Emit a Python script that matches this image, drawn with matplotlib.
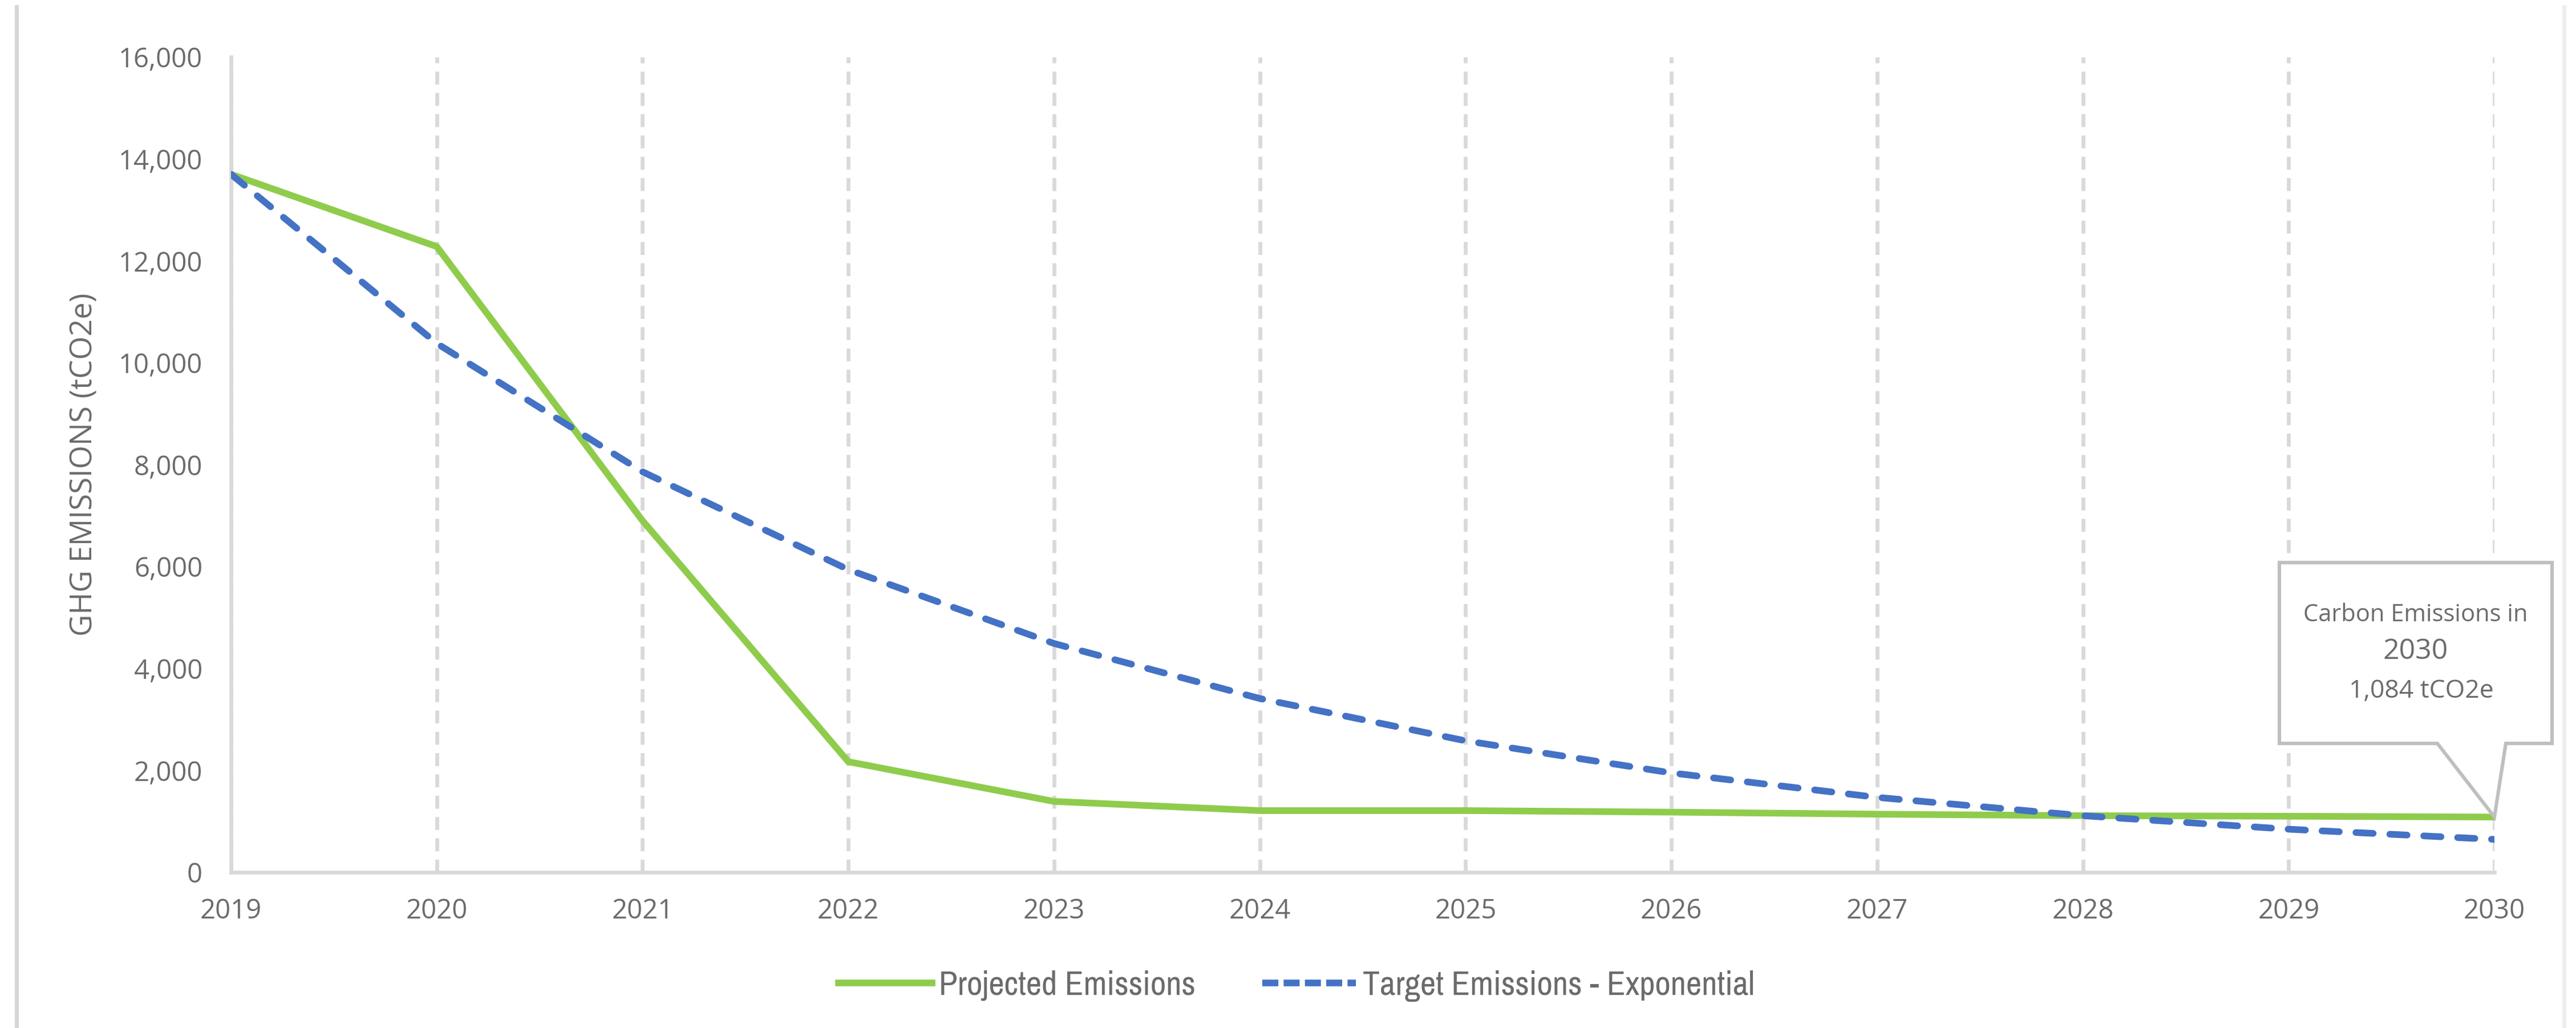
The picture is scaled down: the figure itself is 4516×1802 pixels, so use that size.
import matplotlib
matplotlib.use("Agg")
import matplotlib.pyplot as plt
import matplotlib.transforms as mtransforms
from matplotlib import font_manager
from matplotlib.patches import Polygon
from matplotlib.lines import Line2D
from matplotlib.ticker import FuncFormatter

# values
years = [2019, 2020, 2021, 2022, 2023, 2024, 2025, 2026, 2027, 2028, 2029, 2030]
projected = [13700, 12280, 6900, 2170, 1390, 1210, 1210, 1180, 1140, 1110, 1100, 1084]
target = [13700, 10380, 7860, 5940, 4490, 3410, 2580, 1950, 1470, 1110, 845, 645]
yticks = [0, 2000, 4000, 6000, 8000, 10000, 12000, 14000, 16000]
callout_lines = ["Carbon Emissions in", "2030", "1,084 tCO2e"]
legend_labels = ["Projected Emissions", "Target Emissions - Exponential"]

GREEN = "#8fcc4c"
BLUE = "#4472c4"
GRID = "#d9d9d9"
TXT = "#6b6b6b"

plt.rcParams['font.family'] = ['Open Sans', 'DejaVu Sans']


def is_regular(f):
    return f.style == 'normal' and f.weight in (400, 'normal', 'regular')


# the legend uses a narrow face; pick an upright one if installed
narrow = None
for f in font_manager.fontManager.ttflist:
    n = f.name.lower()
    if ('narrow' in n or 'condensed' in n) and is_regular(f):
        narrow = f.fname
        break
if narrow is None:
    for f in font_manager.fontManager.ttflist:
        if str(f.stretch) in ('condensed', 'semi-condensed', 'extra-condensed') and is_regular(f):
            narrow = f.fname
            break
if narrow is not None:
    leg_prop = font_manager.FontProperties(fname=narrow, size=21.5)
else:
    leg_prop = font_manager.FontProperties(family=['Open Sans'], size=16)

fig = plt.figure(figsize=(22.58, 9.01), dpi=200)
ax = fig.add_axes([405 / 4516, 1 - 1529 / 1802, (4373 - 405) / 4516, (1529 - 100) / 1802])

ax.plot(years, projected, color=GREEN, lw=4.2, solid_capstyle='butt', zorder=3,
        label=legend_labels[0])
ax.plot(years, target, color=BLUE, lw=4.2, dashes=(2.6, 2.5), dash_capstyle='round',
        zorder=4, label=legend_labels[1])

ax.set_xlim(years[0], years[-1])
ax.set_ylim(yticks[0], yticks[-1])
ax.set_xticks(years)
ax.set_yticks(yticks)
ax.yaxis.set_major_formatter(FuncFormatter(lambda v, p: f"{int(v):,}"))
ax.tick_params(length=0, labelsize=17, colors=TXT)
ax.tick_params(axis='y', pad=18)
ax.tick_params(axis='x', pad=16)
ax.grid(axis='x', color=GRID, lw=2.4, dashes=(3.4, 2.2))
ax.set_axisbelow(True)
for s in ['top', 'right']:
    ax.spines[s].set_visible(False)
for s in ['left', 'bottom']:
    ax.spines[s].set_color(GRID)
    ax.spines[s].set_linewidth(2.4)

ax.set_ylabel("GHG EMISSIONS (tCO2e)", fontsize=19, color=TXT, labelpad=12)

# callout pointing to the last projected value
tr = fig.dpi_scale_trans + mtransforms.ScaledTranslation(years[-1], projected[-1], ax.transData)
box = Polygon([(-1.885, 0.645), (-0.50, 0.645), (0, 0), (0.10, 0.645), (0.505, 0.645),
               (0.505, 2.23), (-1.885, 2.23)], closed=True, transform=tr,
              facecolor='white', edgecolor='#bfbfbf', lw=2.2, zorder=6, clip_on=False)
ax.add_patch(box)
ax.text(-0.69, 1.77, callout_lines[0], transform=tr, ha='center', va='center',
        fontsize=15, color=TXT, zorder=7)
ax.text(-0.69, 1.45, callout_lines[1], transform=tr, ha='center', va='center',
        fontsize=18, color=TXT, zorder=7)
ax.text(-0.64, 1.10, callout_lines[2], transform=tr, ha='center', va='center',
        fontsize=16, color=TXT, zorder=7)

# legend
handles = [Line2D([], [], color=GREEN, lw=4.2),
           Line2D([], [], color=BLUE, lw=4.2, dashes=(2.4, 0.8), dash_capstyle='butt')]
leg = fig.legend(handles, legend_labels,
                 loc='center', bbox_to_anchor=(2273 / 4516, 1 - 1728 / 1802),
                 ncol=2, frameon=False, handlelength=2.75, handletextpad=0.2,
                 columnspacing=1.95, prop=leg_prop)
for t in leg.get_texts():
    t.set_color(TXT)

# outer frame edges from the cropped screenshot
fig.add_artist(Line2D([29 / 4516, 29 / 4516], [0, 1 - 12 / 1802], transform=fig.transFigure,
                      color='#d6d6d6', lw=2.5))
fig.add_artist(Line2D([4495 / 4516, 4495 / 4516], [0, 1 - 12 / 1802], transform=fig.transFigure,
                      color='#eeeeee', lw=2.5))

fig.savefig("out.png", dpi=200, facecolor='white')
